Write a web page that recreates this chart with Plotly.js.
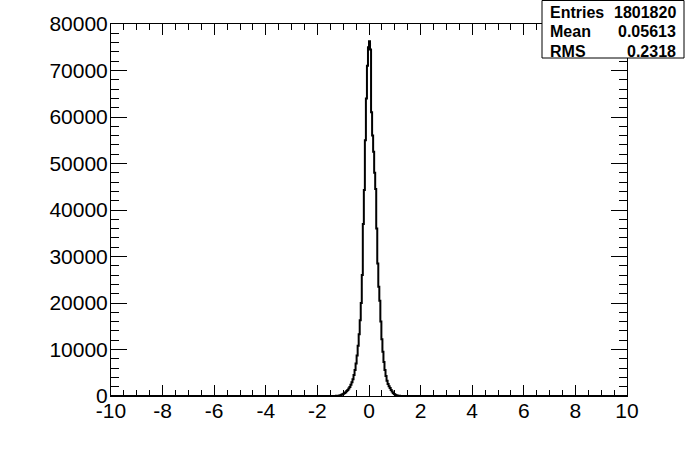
<!DOCTYPE html>
<html>
<head>
<meta charset="utf-8">
<script src="https://cdn.plot.ly/plotly-3.0.1.min.js"></script>
<style>html,body{margin:0;padding:0;background:#fff;}#chart{width:696px;height:472px;}</style>
</head>
<body>
<div id="chart"></div>
<script>
// Histogram range and binning
var histMin = -10;
var histMax = 10;
var firstEdge = -1.28;
var binWidth = 0.04;
// Bin contents (non-empty region)
var binCounts = [
  30, 50, 80, 120, 180, 250, 350, 480, 640, 830,
  1050, 1300, 1600, 1950, 2400, 2950, 3600, 4500, 5600, 7000,
  8700, 10800, 13300, 16300, 20000, 26000, 37000, 44300, 55000, 64000,
  71000, 75000, 76300, 74500, 61000, 56000, 52500, 48000, 44500, 36000,
  28500, 23500, 20500, 16000, 12200, 9500, 7300, 5600, 4300, 3300,
  2600, 2100, 1700, 1300, 950, 650, 420, 260, 160, 100,
  60, 35, 20
];
// Axis ticks
var xTickVals = [-10, -8, -6, -4, -2, 0, 2, 4, 6, 8, 10];
var xTickLabels = ["-10", "-8", "-6", "-4", "-2", "0", "2", "4", "6", "8", "10"];
var yTickVals = [0, 10000, 20000, 30000, 40000, 50000, 60000, 70000, 80000];
var yTickLabels = ["0", "10000", "20000", "30000", "40000", "50000", "60000", "70000", "80000"];
// Stats box
var statNames = ["Entries", "Mean", "RMS"];
var statValues = ["1801820", "0.05613", "0.2318"];

// Build step outline
var xs = [histMin], ys = [0];
for (var i = 0; i < binCounts.length; i++) {
  xs.push(firstEdge + i * binWidth);
  ys.push(binCounts[i]);
}
xs.push(firstEdge + binCounts.length * binWidth); ys.push(0);
xs.push(histMax); ys.push(0);

var L = 111, R = 69, T = 24, B = 76, W = 696, H = 472;
var pw = W - L - R, ph = H - T - B;
function px(x) { return (x - L) / pw; }
function py(y) { return (H - B - y) / ph; }

var font = "Liberation Sans, Arial, Helvetica, sans-serif";

var trace = {
  x: xs, y: ys, type: "scatter", mode: "lines",
  line: {shape: "hv", color: "#000", width: 2},
  hoverinfo: "skip"
};

var annotations = [];
var rowY = [12, 31.5, 51];
for (var k = 0; k < statNames.length; k++) {
  annotations.push({xref: "paper", yref: "paper", x: px(548), y: py(rowY[k]), xanchor: "left", yanchor: "middle",
    text: "<b>" + statNames[k] + "</b>", showarrow: false, font: {family: font, size: 16, color: "#000"}});
  annotations.push({xref: "paper", yref: "paper", x: px(678), y: py(rowY[k]), xanchor: "right", yanchor: "middle",
    text: "<b>" + statValues[k] + "</b>", showarrow: false, font: {family: font, size: 16, color: "#000"}});
}

var layout = {
  width: W, height: H,
  margin: {l: L, r: R, t: T, b: B, pad: 0},
  paper_bgcolor: "#fff", plot_bgcolor: "#fff",
  showlegend: false,
  font: {family: font, size: 21, color: "#000"},
  xaxis: {
    range: [histMin, histMax], tickmode: "array", tickvals: xTickVals, ticktext: xTickLabels,
    ticks: "inside", ticklen: 11, tickwidth: 1, tickcolor: "#000",
    minor: {dtick: 0.5, tick0: 0, ticks: "inside", ticklen: 6, tickwidth: 1, tickcolor: "#000", showgrid: false},
    showline: true, linecolor: "#000", linewidth: 1, mirror: "allticks",
    showgrid: false, zeroline: false, automargin: false,
    ticklabelstandoff: -4,
    tickfont: {family: font, size: 21, color: "#000"}
  },
  yaxis: {
    range: [0, 80000], tickmode: "array", tickvals: yTickVals, ticktext: yTickLabels,
    ticks: "inside", ticklen: 16, tickwidth: 1, tickcolor: "#000",
    minor: {dtick: 2000, tick0: 0, ticks: "inside", ticklen: 8, tickwidth: 1, tickcolor: "#000", showgrid: false},
    showline: true, linecolor: "#000", linewidth: 1, mirror: "allticks",
    showgrid: false, zeroline: false, automargin: false,
    ticklabelstandoff: -2,
    tickfont: {family: font, size: 21, color: "#000"}
  },
  shapes: [{
    type: "rect", xref: "paper", yref: "paper",
    x0: px(542), x1: px(684), y0: py(58), y1: py(0.5),
    fillcolor: "#fff", line: {color: "#000", width: 1}, layer: "above"
  }],
  annotations: annotations
};

Plotly.newPlot("chart", [trace], layout, {staticPlot: true, displayModeBar: false});
</script>
</body>
</html>
